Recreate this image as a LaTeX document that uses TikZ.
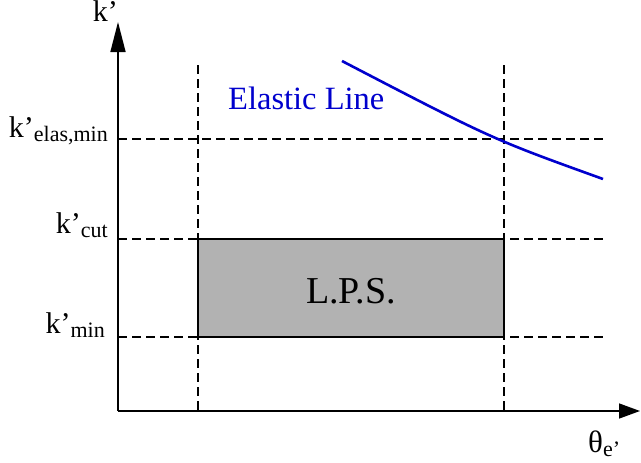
\documentclass[tikz,border=0pt]{standalone}
\usepackage{fontspec}
\setmainfont{Liberation Serif}
\usetikzlibrary{arrows.meta}
\definecolor{elblue}{RGB}{0,0,205}
\newcommand\lowsub[1]{\raisebox{-4pt}{\fontsize{22}{22}\selectfont #1}}
\begin{document}
\begin{tikzpicture}[x=1pt,y=-1pt,
  axis/.style={line width=1.5pt},
  guide/.style={line width=1.3pt,dash pattern=on 9pt off 5pt},
  lbl/.style={inner sep=0pt,font=\fontsize{30}{30}\selectfont},
  lpsbox/.style={draw=black,line width=1.2pt,fill=black!30,inner sep=0pt,minimum width=306pt,minimum height=98pt},
  elastic/.style={elblue,line width=2.6pt}]
\useasboundingbox (0,0) rectangle (641,463);
% axes coordinates
\coordinate (O) at (118,411);
\coordinate (ytip) at (118,22);
\coordinate (xtip) at (640,411);
% guide coordinates
\coordinate (v1t) at (198,65);  \coordinate (v1b) at (198,411);
\coordinate (v2t) at (504,65);  \coordinate (v2b) at (504,411);
\coordinate (h1l) at (118,139); \coordinate (h1r) at (604,139);
\coordinate (h2l) at (118,239); \coordinate (h2r) at (604,239);
\coordinate (h3l) at (118,337); \coordinate (h3r) at (604,337);
% dashed guides
\draw[guide] (v1t) -- (v1b);
\draw[guide] (v2t) -- (v2b);
\draw[guide] (h1l) -- (h1r);
\draw[guide] (h2l) -- (h2r);
\draw[guide] (h3l) -- (h3r);
% LPS box
\node[lpsbox] (lps) at (351,288) {};
\node[inner sep=0pt,anchor=base,font=\fontsize{38}{38}\selectfont] (lpstext) at (351,303) {L.P.S.};
% axes
\draw[axis,-{Triangle[length=30pt,width=15pt]}] (O) -- (ytip);
\draw[axis,-{Triangle[length=21pt,width=15pt]}] (O) -- (xtip);
% elastic line
\coordinate (e0) at (342,61);
\coordinate (ec) at (492,139);
\coordinate (e1) at (603,179);
\draw[elastic] (e0) .. controls (ec) .. (e1);
\node[inner sep=0pt,anchor=base west,text=elblue,font=\fontsize{32.5}{32.5}\selectfont] (eltext) at (228,109) {Elastic Line};
% labels
\node[lbl,anchor=base east] (ky) at (118,21) {k’};
\node[lbl,anchor=base east] (kel) at (108,137) {k’\lowsub{elas,min}};
\node[lbl,anchor=base east] (kcut) at (108,233) {k’\lowsub{cut}};
\node[lbl,anchor=base east] (kmin) at (105,333) {k’\lowsub{min}};
\node[lbl,anchor=base west,font=\fontsize{31}{31}\selectfont] (th) at (588,452) {θ\lowsub{e’}};
\end{tikzpicture}
\end{document}
